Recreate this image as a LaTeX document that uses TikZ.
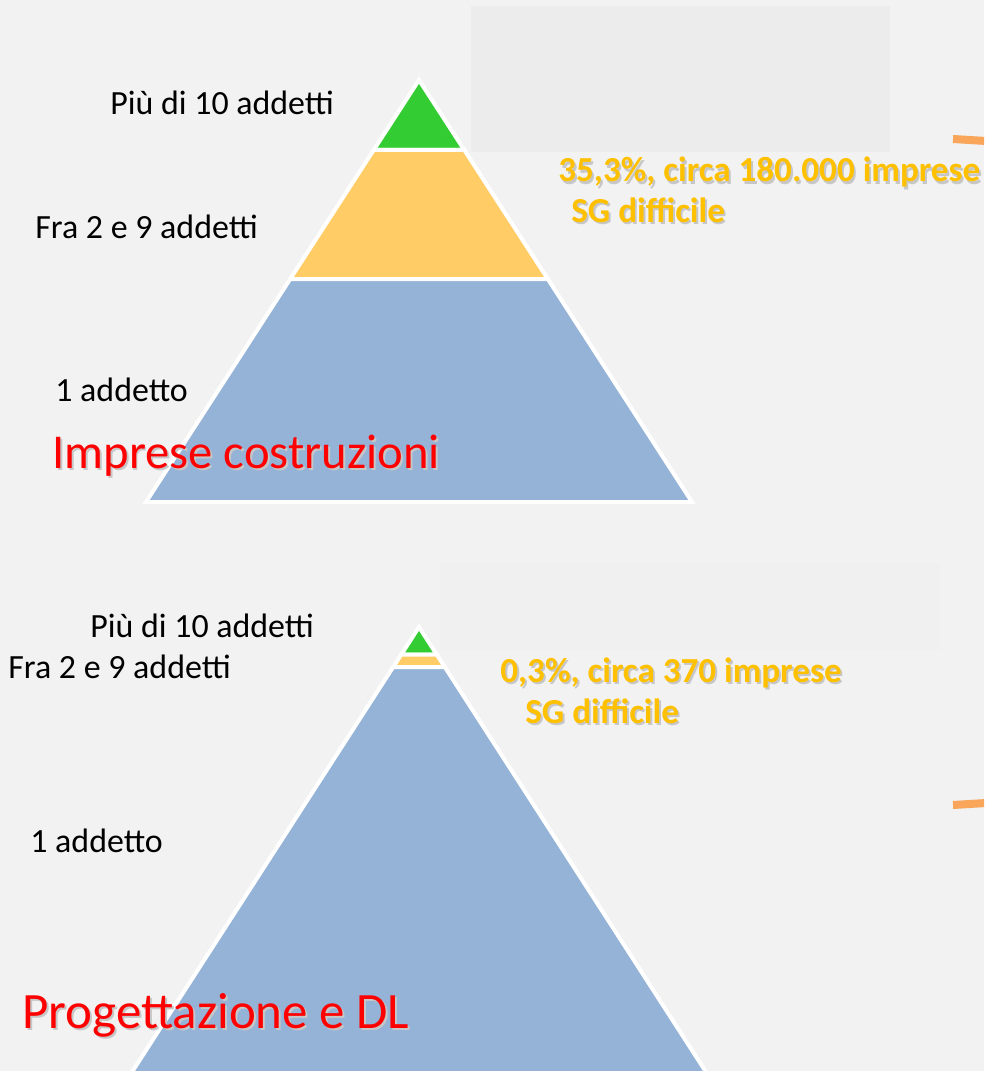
\documentclass[tikz,border=0pt]{standalone}
\usepackage{fontspec}
\setmainfont{Carlito}
\usepackage{xcolor}
\usetikzlibrary{positioning}

\definecolor{bgGray}{HTML}{F2F2F2}
\definecolor{boxGray}{HTML}{ECECEC}
\definecolor{pyrGreen}{HTML}{33CC33}
\definecolor{pyrOrange}{HTML}{FFCC66}
\definecolor{pyrBlue}{HTML}{95B3D7}
\definecolor{titleRed}{HTML}{FF0000}
\definecolor{shareGold}{HTML}{FFC000}
\definecolor{arcOrange}{HTML}{F9A55A}

\newcommand{\shadowtxt}[1]{\rlap{\kern1.1pt\raisebox{-1.3pt}{\textcolor{black!22}{#1}}}#1}

\begin{document}
\begin{tikzpicture}[
  x=0.02cm, y=-0.02cm,
  countlbl/.style={anchor=base west, inner sep=0pt,
    font=\fontsize{19.3}{22}\selectfont, text=black},
  sector/.style={anchor=base west, inner sep=0pt,
    font=\fontsize{27.7}{32}\selectfont, text=titleRed},
  share/.style={anchor=base west, inner sep=0pt,
    font=\fontsize{20}{24}\selectfont\bfseries, text=shareGold},
  layer/.style={draw=white, line width=0.08cm, line join=miter},
  arcpiece/.style={draw=arcOrange, line width=0.16cm}
]

% Background
\useasboundingbox (0,0) rectangle (984,1071);
\clip (0,0) rectangle (984,1071);
\fill[bgGray] (0,0) rectangle (984,1071);
\fill[boxGray] (471,6) rectangle (890,152);
\fill[boxGray!25!bgGray] (440,563) rectangle (940,650);

% Pyramid: imprese costruzioni
\path[layer, fill=pyrGreen] (419,80) -- (373.7,150) -- (464.3,150) -- cycle;
\path[layer, fill=pyrOrange] (373.7,150) -- (290.2,279) -- (547.8,279) -- (464.3,150) -- cycle;
\path[layer, fill=pyrBlue] (290.2,279) -- (146,502) -- (692,502) -- (547.8,279) -- cycle;

% Pyramid: progettazione e DL
\path[layer, fill=pyrGreen] (419,627) -- (401.3,654.5) -- (436.7,654.5) -- cycle;
\path[layer, fill=pyrOrange] (401.3,654.5) -- (393.2,667) -- (444.8,667) -- (436.7,654.5) -- cycle;
\path[layer, fill=pyrBlue] (393.2,667) -- (123.6,1085) -- (714.4,1085) -- (444.8,667) -- cycle;

% Labels top
\node[countlbl] (topMore) at (110,115) {Più di 10 addetti};
\node[countlbl] (topMid) at (35,238) {Fra 2 e 9 addetti};
\node[countlbl] (topOne) at (55,401) {1 addetto};
\node[sector] (topTitle) at (52,468) {\shadowtxt{Imprese costruzioni}};
\node[share] (topShare) at (558,182) {\shadowtxt{35,3\%, circa 180.000 imprese}};
\node[share] (topSG) at (571,222) {\shadowtxt{SG difficile}};

% Labels bottom
\node[countlbl] (botMore) at (90,637) {Più di 10 addetti};
\node[countlbl] (botMid) at (8,678) {Fra 2 e 9 addetti};
\node[countlbl] (botOne) at (30,852) {1 addetto};
\node[sector, font=\fontsize{29}{34}\selectfont] (botTitle) at (22,1028) {\shadowtxt{Progettazione e DL}};
\node[share] (botShare) at (500,682) {\shadowtxt{0,3\%, circa 370 imprese}};
\node[share] (botSG) at (525,723) {\shadowtxt{SG difficile}};

% Arc pieces at right edge
\draw[arcpiece] (953,139) -- (986,141);
\draw[arcpiece] (953,805) -- (986,803);

\end{tikzpicture}
\end{document}
